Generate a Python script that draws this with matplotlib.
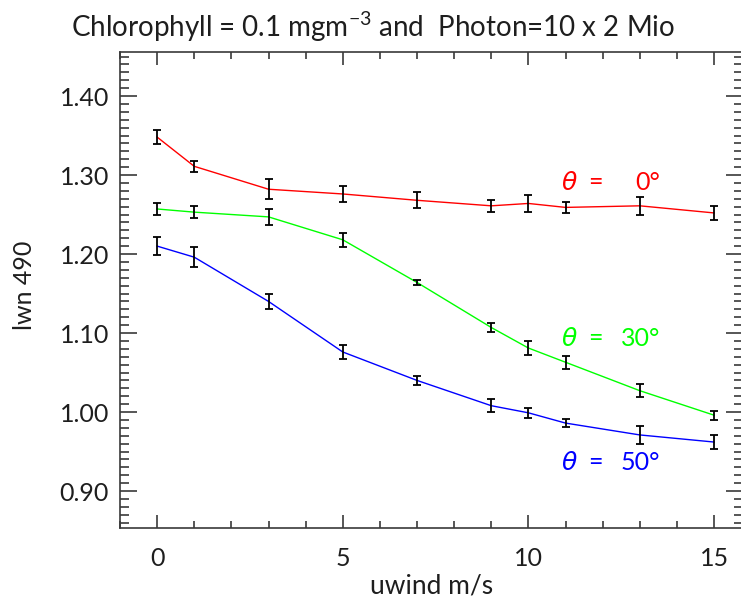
import matplotlib
matplotlib.use("Agg")
import matplotlib.pyplot as plt
from matplotlib.ticker import MultipleLocator, FormatStrFormatter

# ---- data ----
uwind = [0, 1, 3, 5, 7, 9, 10, 11, 13, 15]
lwn_0 = [1.348, 1.311, 1.282, 1.276, 1.268, 1.261, 1.264, 1.259, 1.261, 1.252]
err_0 = [0.0086, 0.0066, 0.0127, 0.010, 0.010, 0.0078, 0.011, 0.0074, 0.011, 0.0087]
lwn_30 = [1.257, 1.253, 1.247, 1.218, 1.164, 1.107, 1.081, 1.063, 1.027, 0.996]
err_30 = [0.007, 0.008, 0.0097, 0.0086, 0.0034, 0.0057, 0.0093, 0.0082, 0.0082, 0.0055]
lwn_50 = [1.210, 1.196, 1.140, 1.076, 1.040, 1.008, 0.999, 0.986, 0.971, 0.962]
err_50 = [0.0114, 0.0124, 0.0093, 0.009, 0.006, 0.0082, 0.0063, 0.0053, 0.0114, 0.0089]
series = [(lwn_0, err_0, "#ff0000", "0°"),
          (lwn_30, err_30, "#00ff00", "30°"),
          (lwn_50, err_50, "#0000ff", "50°")]
label_y = [1.290, 1.093, 0.936]

plt.rcParams['font.family'] = ['Lato', 'DejaVu Sans']
plt.rcParams['font.weight'] = 'normal'
plt.rcParams['mathtext.fontset'] = 'custom'
plt.rcParams['mathtext.rm'] = 'Lato'
plt.rcParams['mathtext.it'] = 'Lato:italic'

W, H = 741, 603
fig = plt.figure(figsize=(W / 100, H / 100), dpi=100)
ax = fig.add_axes([120 / W, 1 - 528 / H, (743 - 120) / W, (528 - 52) / H])

axcol = "#3a3a3a"
txtcol = "#1e1e1e"
for s in ax.spines.values():
    s.set_color(axcol)
    s.set_linewidth(1.2)

for vals, errs, col, lab in series:
    ax.plot(uwind, vals, color=col, lw=1.0, zorder=2)
    ax.errorbar(uwind, vals, yerr=errs, fmt='none', ecolor='black',
                elinewidth=1.3, capsize=3.0, capthick=1.3, zorder=3)

for (vals, errs, col, lab), ly in zip(series, label_y):
    ax.text(10.9, ly, 'θ', color=col, fontsize=18, ha='left', va='center',
            style='italic', family=['DejaVu Sans'], fontweight='light')
    ax.text(11.62, ly, '=', color=col, fontsize=18, ha='left', va='center')
    ax.text(13.55, ly, lab, color=col, fontsize=18, ha='right', va='center')

ax.set_xlim(-1, 15.78)
ax.set_ylim(0.8532, 1.4557)
ax.xaxis.set_major_locator(MultipleLocator(5))
ax.xaxis.set_minor_locator(MultipleLocator(1))
ax.yaxis.set_minor_locator(MultipleLocator(0.01))
ax.yaxis.set_major_formatter(FormatStrFormatter('%.2f'))
ax.set_yticks([0.9, 1.0, 1.1, 1.2, 1.3, 1.4])

ax.tick_params(axis='both', which='both', direction='in', top=True,
               right=True, color=axcol, width=1.2, labelcolor=txtcol,
               labelsize=18)
ax.tick_params(axis='x', which='major', length=9.5, pad=14)
ax.tick_params(axis='x', which='minor', length=4.8)
ax.tick_params(axis='y', which='major', length=12.5, pad=8)
ax.tick_params(axis='y', which='minor', length=6.2)

ax.set_xlabel('uwind m/s', fontsize=19, color=txtcol, labelpad=2)
fig.text(25 / W, 1 - 285 / H, 'lwn 490', rotation=90, fontsize=18,
         color=txtcol, ha='center', va='center')
fig.text(373 / W, 1 - 27 / H,
         r'Chlorophyll = 0.1 mgm$^{-3}$ and  Photon=10 x 2 Mio',
         fontsize=20, color=txtcol, ha='center', va='center')

fig.savefig('out.png', dpi=100)
